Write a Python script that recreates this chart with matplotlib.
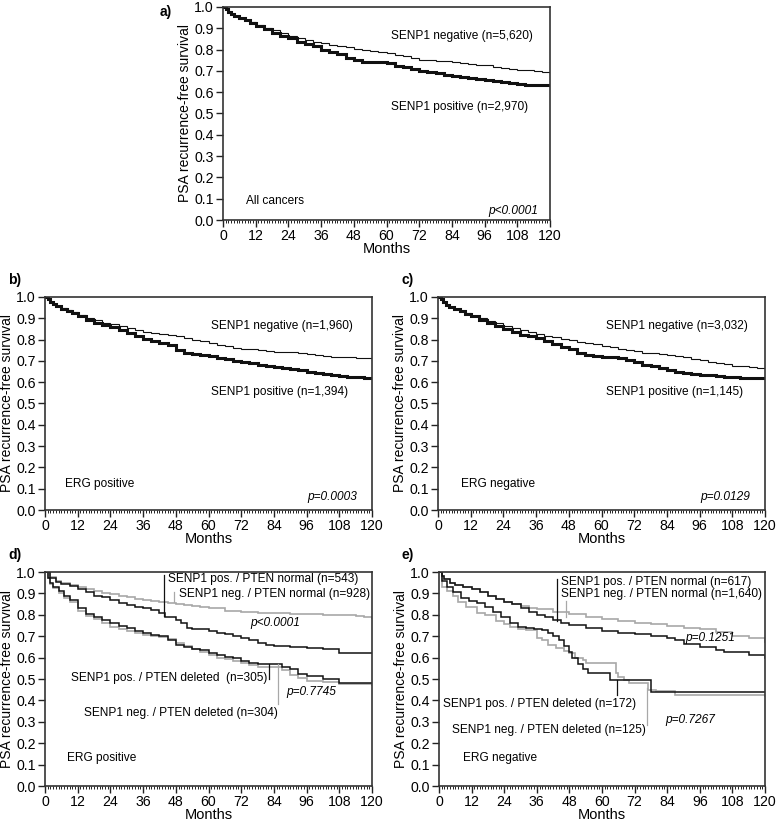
import matplotlib
matplotlib.use("Agg")
import matplotlib.pyplot as plt
from matplotlib.ticker import MultipleLocator, FormatStrFormatter

plt.rcParams['font.family'] = ['Liberation Sans', 'DejaVu Sans']

# ---------------- data ----------------
T_ABC = [0, 1, 2, 3, 4, 6, 8, 10, 12, 15, 18, 21, 24, 27, 30, 33, 36, 39, 42, 45, 48,
         51, 54, 57, 60, 63, 66, 69, 72, 75, 78, 81, 84, 87, 90, 93, 96, 99, 102, 105,
         108, 111, 114, 117, 120]

A_NEG = [1, 0.99, 0.975, 0.965, 0.958, 0.948, 0.938, 0.928, 0.917, 0.903, 0.89, 0.878,
         0.866, 0.855, 0.847, 0.838, 0.83, 0.822, 0.817, 0.81, 0.802, 0.797, 0.793, 0.788,
         0.782, 0.776, 0.768, 0.76, 0.753, 0.75, 0.748, 0.745, 0.742, 0.738, 0.734, 0.73,
         0.726, 0.72, 0.714, 0.71, 0.704, 0.702, 0.70, 0.697, 0.692]
A_POS = [1, 0.99, 0.975, 0.965, 0.957, 0.947, 0.937, 0.926, 0.913, 0.895, 0.878, 0.866,
         0.853, 0.838, 0.825, 0.815, 0.80, 0.788, 0.778, 0.762, 0.75, 0.742, 0.74, 0.74,
         0.735, 0.725, 0.72, 0.71, 0.70, 0.695, 0.688, 0.68, 0.674, 0.67, 0.666, 0.662,
         0.657, 0.652, 0.647, 0.643, 0.638, 0.636, 0.635, 0.634, 0.632]

B_NEG = [1, 0.99, 0.975, 0.965, 0.958, 0.948, 0.938, 0.928, 0.916, 0.902, 0.89, 0.88,
         0.872, 0.862, 0.853, 0.845, 0.838, 0.832, 0.827, 0.822, 0.815, 0.808, 0.80, 0.792,
         0.784, 0.776, 0.768, 0.762, 0.757, 0.754, 0.752, 0.748, 0.744, 0.742, 0.74, 0.736,
         0.732, 0.728, 0.722, 0.72, 0.718, 0.716, 0.714, 0.712, 0.703]
B_POS = [1, 0.99, 0.975, 0.965, 0.957, 0.946, 0.936, 0.924, 0.91, 0.893, 0.878, 0.868,
         0.858, 0.843, 0.83, 0.818, 0.805, 0.792, 0.785, 0.775, 0.752, 0.735, 0.732, 0.73,
         0.725, 0.715, 0.707, 0.70, 0.695, 0.69, 0.683, 0.675, 0.672, 0.668, 0.663, 0.658,
         0.65, 0.645, 0.64, 0.635, 0.628, 0.625, 0.623, 0.622, 0.62]

C_NEG = [1, 0.99, 0.975, 0.963, 0.955, 0.945, 0.935, 0.925, 0.913, 0.90, 0.888, 0.876,
         0.865, 0.855, 0.846, 0.836, 0.826, 0.818, 0.81, 0.803, 0.796, 0.789, 0.783, 0.777,
         0.77, 0.764, 0.758, 0.752, 0.745, 0.739, 0.736, 0.732, 0.728, 0.722, 0.716, 0.71,
         0.703, 0.695, 0.69, 0.684, 0.676, 0.674, 0.672, 0.669, 0.666]
C_POS = [1, 0.99, 0.975, 0.962, 0.953, 0.943, 0.933, 0.922, 0.91, 0.893, 0.878, 0.862,
         0.85, 0.836, 0.823, 0.817, 0.808, 0.793, 0.78, 0.765, 0.755, 0.738, 0.73, 0.725,
         0.72, 0.716, 0.713, 0.705, 0.695, 0.683, 0.675, 0.665, 0.657, 0.648, 0.643, 0.638,
         0.635, 0.632, 0.628, 0.625, 0.623, 0.622, 0.621, 0.62, 0.62]

# panel d (ERG positive)
D_NEG_NORM_T = [0, 2, 4, 6, 9, 12, 15, 18, 21, 24, 27, 30, 33, 36, 39, 42, 45, 48, 51, 54,
                57, 60, 66, 72, 78, 84, 90, 96, 102, 108, 114, 117, 120]
D_NEG_NORM = [1, 0.975, 0.96, 0.95, 0.94, 0.93, 0.92, 0.91, 0.90, 0.895, 0.888, 0.882,
              0.875, 0.87, 0.865, 0.86, 0.855, 0.85, 0.845, 0.84, 0.835, 0.83, 0.82, 0.812,
              0.81, 0.808, 0.806, 0.803, 0.80, 0.80, 0.795, 0.79, 0.787]
D_POS_NORM_T = [0, 2, 4, 6, 9, 12, 15, 18, 21, 24, 27, 30, 33, 36, 39, 42, 44, 48, 50, 52,
                54, 60, 63, 66, 69, 72, 75, 78, 81, 84, 90, 96, 102, 108, 120]
D_POS_NORM = [1, 0.97, 0.955, 0.945, 0.935, 0.92, 0.905, 0.89, 0.882, 0.87, 0.855, 0.845,
              0.838, 0.83, 0.822, 0.81, 0.79, 0.775, 0.76, 0.74, 0.735, 0.725, 0.715, 0.71,
              0.70, 0.69, 0.68, 0.67, 0.66, 0.655, 0.65, 0.645, 0.64, 0.62, 0.62]
D_DEL_T = [0, 1, 2, 3, 5, 7, 9, 12, 15, 18, 21, 24, 27, 30, 33, 36, 39, 42, 45, 48, 51, 54,
           57, 60, 63, 66, 69, 72, 75, 78, 84, 87, 90, 93, 96, 102, 108, 120]
D_POS_DEL = [1, 0.97, 0.95, 0.93, 0.91, 0.89, 0.87, 0.83, 0.805, 0.79, 0.775, 0.76, 0.748,
             0.737, 0.725, 0.715, 0.705, 0.70, 0.68, 0.66, 0.65, 0.64, 0.635, 0.62, 0.61,
             0.605, 0.60, 0.585, 0.575, 0.57, 0.57, 0.555, 0.545, 0.525, 0.515, 0.50, 0.48,
             0.48]
D_NEG_DEL = [1, 0.97, 0.945, 0.925, 0.90, 0.88, 0.86, 0.82, 0.795, 0.78, 0.76, 0.745, 0.735,
             0.725, 0.715, 0.705, 0.70, 0.695, 0.685, 0.67, 0.655, 0.64, 0.625, 0.61, 0.60,
             0.595, 0.585, 0.575, 0.565, 0.555, 0.555, 0.54, 0.52, 0.505, 0.49, 0.485, 0.475,
             0.47]

# panel e (ERG negative)
E_POS_NORM_T = [0, 1, 2, 4, 6, 9, 12, 15, 18, 21, 24, 27, 30, 33, 36, 39, 42, 45, 48, 54,
                60, 66, 72, 78, 84, 87, 90, 96, 102, 105, 108, 114, 120]
E_POS_NORM = [1, 0.98, 0.965, 0.95, 0.94, 0.93, 0.92, 0.905, 0.89, 0.875, 0.86, 0.85, 0.83,
              0.815, 0.80, 0.79, 0.775, 0.76, 0.752, 0.74, 0.725, 0.715, 0.71, 0.70, 0.69,
              0.68, 0.665, 0.65, 0.635, 0.625, 0.625, 0.61, 0.60]
E_NEG_NORM_T = [0, 1, 2, 4, 6, 9, 12, 15, 18, 21, 24, 27, 30, 33, 36, 42, 48, 54, 60, 66,
                72, 78, 84, 90, 96, 102, 108, 114, 120]
E_NEG_NORM = [1, 0.98, 0.965, 0.95, 0.94, 0.93, 0.92, 0.905, 0.89, 0.875, 0.862, 0.85, 0.84,
              0.832, 0.825, 0.815, 0.805, 0.79, 0.78, 0.77, 0.76, 0.755, 0.748, 0.74, 0.732,
              0.72, 0.703, 0.69, 0.672]
E_POS_DEL_T = [0, 1, 3, 5, 8, 11, 14, 17, 20, 23, 26, 29, 32, 35, 38, 40, 42, 44, 46, 48,
               49, 51, 53, 55, 63, 78, 120]
E_POS_DEL = [1, 0.96, 0.93, 0.905, 0.88, 0.865, 0.855, 0.835, 0.815, 0.79, 0.76, 0.745,
             0.74, 0.735, 0.73, 0.715, 0.70, 0.68, 0.655, 0.625, 0.60, 0.57, 0.547, 0.528,
             0.497, 0.437, 0.437]
E_NEG_DEL_T = [0, 1, 3, 5, 7, 10, 14, 17, 21, 24, 26, 29, 32, 36, 38, 40, 43, 46, 48, 50,
               53, 54, 65, 66, 68, 70, 77, 80, 87, 120]
E_NEG_DEL = [1, 0.93, 0.91, 0.89, 0.86, 0.835, 0.81, 0.80, 0.77, 0.755, 0.745, 0.735, 0.73,
             0.69, 0.68, 0.66, 0.643, 0.63, 0.62, 0.60, 0.59, 0.575, 0.528, 0.51, 0.497,
             0.48, 0.45, 0.445, 0.425, 0.42]

X_TICKS = [0, 12, 24, 36, 48, 60, 72, 84, 96, 108, 120]
Y_TICKS = [0.0, 0.1, 0.2, 0.3, 0.4, 0.5, 0.6, 0.7, 0.8, 0.9, 1.0]

# ---------------- figure ----------------
W, H = 778, 821
fig = plt.figure(figsize=(W / 100, H / 100), dpi=100)

BLACK = '#111111'
GRAY = '#a8a8a8'
FS_TICK = 10.2
FS_LAB = 10
FS_TXT = 8.55


def rect(left, top, right, bottom):
    return [left / W, 1 - bottom / H, (right - left) / W, (bottom - top) / H]


def style(ax):
    ax.set_xlim(0, 120)
    ax.set_ylim(0, 1)
    ax.set_xticks(X_TICKS)
    ax.set_yticks(Y_TICKS)
    ax.xaxis.set_minor_locator(MultipleLocator(1))
    ax.yaxis.set_major_formatter(FormatStrFormatter('%.1f'))
    ax.tick_params(axis='both', which='major', direction='out', length=5, width=1.0,
                   labelsize=FS_TICK, pad=1.5, color='#222222')
    ax.tick_params(axis='x', which='minor', direction='out', length=2.5, width=0.7,
                   color='#222222')
    for s in ax.spines.values():
        s.set_linewidth(1.2)
        s.set_color('#333333')
    ax.set_xlabel('Months', fontsize=FS_LAB + 0.5, labelpad=-1)
    ax.set_ylabel('PSA recurrence-free survival', fontsize=FS_LAB, labelpad=2)


def km(ax, t, s, color, lw):
    ax.step(t, s, where='post', color=color, lw=lw, solid_joinstyle='miter')


# panel a
axa = fig.add_axes(rect(223, 7, 550, 220))
style(axa)
km(axa, T_ABC, A_NEG, BLACK, 0.8)
km(axa, T_ABC, A_POS, BLACK, 2.2)
axa.text(61.5, 0.865, 'SENP1 negative (n=5,620)', fontsize=FS_TXT, va='center')
axa.text(61.5, 0.53, 'SENP1 positive (n=2,970)', fontsize=FS_TXT, va='center')
axa.text(8.5, 0.09, 'All cancers', fontsize=FS_TXT, va='center')
axa.text(115.5, 0.04, 'p<0.0001', fontsize=FS_TXT, va='center', ha='right', style='italic')
fig.text(160 / W, 1 - 12 / H, 'a)', fontsize=10, fontweight='bold', va='center')

# panel b
axb = fig.add_axes(rect(45, 297, 372, 510))
style(axb)
km(axb, T_ABC, B_NEG, BLACK, 0.8)
km(axb, T_ABC, B_POS, BLACK, 2.2)
axb.text(61, 0.862, 'SENP1 negative (n=1,960)', fontsize=FS_TXT, va='center')
axb.text(61, 0.555, 'SENP1 positive (n=1,394)', fontsize=FS_TXT, va='center')
axb.text(7.3, 0.12, 'ERG positive', fontsize=FS_TXT, va='center')
axb.text(114.5, 0.06, 'p=0.0003', fontsize=FS_TXT, va='center', ha='right', style='italic')
fig.text(8 / W, 1 - 280 / H, 'b)', fontsize=10, fontweight='bold', va='center')

# panel c
axc = fig.add_axes(rect(438, 297, 765, 510))
style(axc)
km(axc, T_ABC, C_NEG, BLACK, 0.8)
km(axc, T_ABC, C_POS, BLACK, 2.2)
axc.text(61.5, 0.862, 'SENP1 negative (n=3,032)', fontsize=FS_TXT, va='center')
axc.text(61.5, 0.555, 'SENP1 positive (n=1,145)', fontsize=FS_TXT, va='center')
axc.text(8.5, 0.12, 'ERG negative', fontsize=FS_TXT, va='center')
axc.text(114.5, 0.06, 'p=0.0129', fontsize=FS_TXT, va='center', ha='right', style='italic')
fig.text(401 / W, 1 - 280 / H, 'c)', fontsize=10, fontweight='bold', va='center')

# panel d
axd = fig.add_axes(rect(45, 572, 372, 786))
style(axd)
km(axd, D_NEG_NORM_T, D_NEG_NORM, GRAY, 1.2)
km(axd, D_DEL_T, D_NEG_DEL, GRAY, 1.2)
km(axd, D_POS_NORM_T, D_POS_NORM, BLACK, 1.1)
km(axd, D_DEL_T, D_POS_DEL, BLACK, 1.1)
axd.plot([43.7, 43.7], [0.795, 0.985], color=BLACK, lw=0.9)
axd.text(45, 0.965, 'SENP1 pos. / PTEN normal (n=543)', fontsize=FS_TXT, va='center')
axd.plot([47.3, 47.3], [0.86, 0.905], color=GRAY, lw=0.9)
axd.text(49.3, 0.895, 'SENP1 neg. / PTEN normal (n=928)', fontsize=FS_TXT, va='center')
axd.text(75.2, 0.76, 'p<0.0001', fontsize=FS_TXT, va='center', style='italic')
axd.plot([82.3, 82.3], [0.5, 0.57], color=BLACK, lw=0.9)
axd.text(81.6, 0.503, 'SENP1 pos. / PTEN deleted  (n=305)', fontsize=FS_TXT, va='center',
         ha='right')
axd.plot([85.6, 85.6], [0.383, 0.57], color=GRAY, lw=0.9)
axd.text(85.3, 0.342, 'SENP1 neg. / PTEN deleted (n=304)', fontsize=FS_TXT, va='center',
         ha='right')
axd.text(88.7, 0.437, 'p=0.7745', fontsize=FS_TXT, va='center', style='italic')
axd.text(8, 0.13, 'ERG positive', fontsize=FS_TXT, va='center')
fig.text(8 / W, 1 - 555 / H, 'd)', fontsize=10, fontweight='bold', va='center')

# panel e
axe = fig.add_axes(rect(439, 572, 765, 786))
style(axe)
km(axe, E_NEG_NORM_T, E_NEG_NORM, GRAY, 1.2)
km(axe, E_NEG_DEL_T, E_NEG_DEL, GRAY, 1.2)
km(axe, E_POS_NORM_T, E_POS_NORM, BLACK, 1.1)
km(axe, E_POS_DEL_T, E_POS_DEL, BLACK, 1.1)
axe.plot([43.5, 43.5], [0.77, 0.965], color=BLACK, lw=0.9)
axe.text(45, 0.953, 'SENP1 pos. / PTEN normal (n=617)', fontsize=FS_TXT, va='center')
axe.plot([46.9, 46.9], [0.79, 0.865], color=GRAY, lw=0.9)
axe.text(45, 0.898, 'SENP1 neg. / PTEN normal (n=1,640)', fontsize=FS_TXT, va='center')
axe.text(90.5, 0.69, 'p=0.1251', fontsize=FS_TXT, va='center', style='italic')
axe.plot([65.4, 65.4], [0.427, 0.497], color=BLACK, lw=0.9)
axe.text(1.5, 0.385, 'SENP1 pos. / PTEN deleted (n=172)', fontsize=FS_TXT, va='center')
axe.plot([76.7, 76.7], [0.286, 0.458], color=GRAY, lw=0.9)
axe.text(76.3, 0.26, 'SENP1 neg. / PTEN deleted (n=125)', fontsize=FS_TXT, va='center',
         ha='right')
axe.text(83.2, 0.31, 'p=0.7267', fontsize=FS_TXT, va='center', style='italic')
axe.text(8.8, 0.13, 'ERG negative', fontsize=FS_TXT, va='center')
fig.text(401 / W, 1 - 555 / H, 'e)', fontsize=10, fontweight='bold', va='center')

fig.savefig('out.png', dpi=100)
